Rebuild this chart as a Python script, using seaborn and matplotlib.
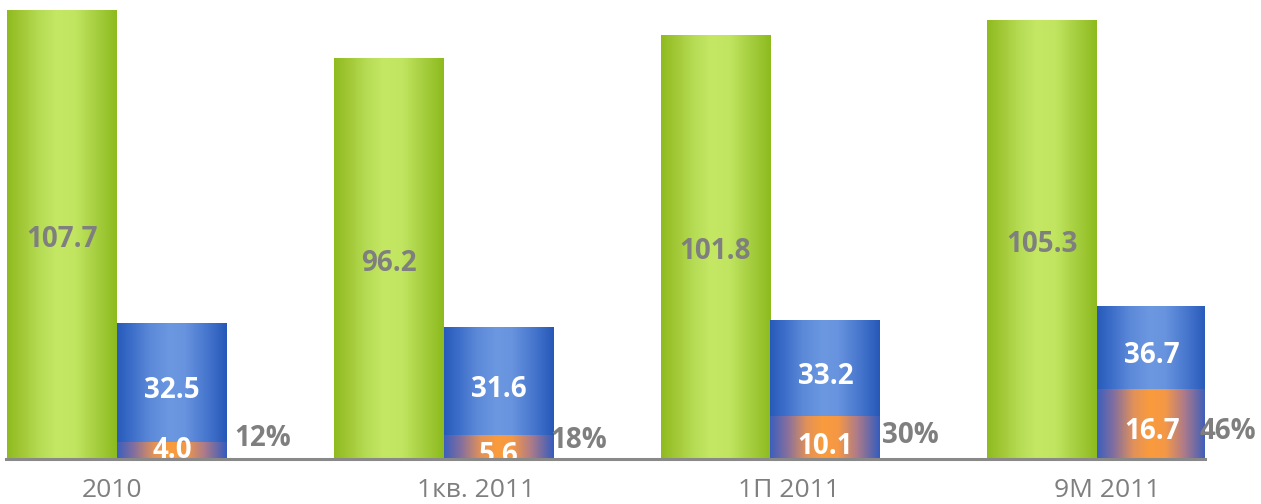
import numpy as np
import pandas as pd
import matplotlib
matplotlib.use("Agg")
import matplotlib.pyplot as plt
import seaborn as sns

# ---- data ----
categories = ["2010", "1кв. 2011", "1П 2011", "9М 2011"]
total_vals = [107.7, 96.2, 101.8, 105.3]
part_vals = [32.5, 31.6, 33.2, 36.7]
sub_vals = [4.0, 5.6, 10.1, 16.7]
share_labels = ["12%", "18%", "30%", "46%"]

# ---- layout (label placement, not data) ----
tick_pos = [-0.015, 1.099, 2.057, 3.030]
share_dx = [0.447, 0.413, 0.428, 0.401]
share_y = [5.0, 4.5, 5.7, 6.7]
sub_label_y = [2.1, 0.9, 3.1, 6.7]

GRAY = "#7F7F7F"

sns.set_theme(style="white")
plt.rcParams["font.family"] = ["Open Sans", "DejaVu Sans"]

fig = plt.figure(figsize=(12.61, 5.04), dpi=100)
ax = fig.add_axes([6 / 1261, 45 / 504, 1199 / 1261, 459 / 504])

pal_main = {"total": "#00ff00", "part": "#0000ff"}
pal_sub = {"total": "#00ff00", "part": "#ff8000"}

n = len(categories)
df_main = pd.DataFrame({
    "cat": categories * 2,
    "val": total_vals + part_vals,
    "series": ["total"] * n + ["part"] * n,
})
# the sub-series sits in the "part" slot; the "total" slot is left empty (0)
df_sub = pd.DataFrame({
    "cat": categories * 2,
    "val": [0.0] * n + sub_vals,
    "series": ["total"] * n + ["part"] * n,
})

sns.barplot(data=df_main, x="cat", y="val", hue="series", order=categories,
            hue_order=["total", "part"], palette=pal_main, width=0.673,
            saturation=1, errorbar=None, legend=False, ax=ax)
n_main = len(ax.patches)
sns.barplot(data=df_sub, x="cat", y="val", hue="series", order=categories,
            hue_order=["total", "part"], palette=pal_sub, width=0.673,
            saturation=1, errorbar=None, legend=False, ax=ax)


def make_grad(stops, npts=256):
    pos = np.array([s[0] for s in stops])
    cols = np.array([s[1] for s in stops], dtype=float) / 255.0
    xs = np.linspace(0, 1, npts)
    arr = np.stack([np.interp(xs, pos, cols[:, c]) for c in range(3)], axis=-1)
    return arr[None, :, :]


grad_green = make_grad([(0, (143, 187, 31)), (0.12, (160, 198, 52)),
                        (0.30, (182, 220, 85)), (0.45, (196, 231, 100)),
                        (0.62, (193, 229, 97)), (0.80, (168, 208, 66)),
                        (1, (141, 186, 30))])
grad_blue = make_grad([(0, (40, 90, 186)), (0.12, (58, 108, 200)),
                       (0.30, (92, 137, 216)), (0.48, (108, 152, 225)),
                       (0.62, (104, 147, 222)), (0.82, (70, 118, 205)),
                       (1, (38, 88, 184))])
grad_orange = make_grad([(0, (60, 95, 188)), (0.15, (130, 110, 160)),
                         (0.33, (225, 145, 90)), (0.48, (250, 155, 60)),
                         (0.62, (245, 152, 70)), (0.80, (170, 122, 140)),
                         (1, (52, 92, 190))])

green_p, blue_p, orange_p = [], [], []
for k, p in enumerate(ax.patches):
    p.set_visible(False)
    if p.get_height() <= 0:
        continue
    fc = p.get_facecolor()
    if k >= n_main:
        orange_p.append(p)
        g, z = grad_orange, 3
    elif fc[1] > 0.5:
        green_p.append(p)
        g, z = grad_green, 2
    else:
        blue_p.append(p)
        g, z = grad_blue, 2
    x0, y0, w, h = p.get_x(), p.get_y(), p.get_width(), p.get_height()
    ax.imshow(g, extent=[x0, x0 + w, y0, y0 + h], aspect="auto",
              interpolation="bilinear", zorder=z)

green_p.sort(key=lambda p: p.get_x())
blue_p.sort(key=lambda p: p.get_x())
orange_p.sort(key=lambda p: p.get_x())

ax.set_xlim(-0.3398, 3.330)
ax.set_ylim(0, 110.3)

for i in range(n):
    gp, bp = green_p[i], blue_p[i]
    gx = gp.get_x() + gp.get_width() / 2
    bx = bp.get_x() + bp.get_width() / 2
    ax.text(gx, total_vals[i] / 2 - 1.1, f"{total_vals[i]:.1f}", ha="center",
            va="center", color=GRAY, fontsize=20, fontweight="bold", zorder=6)
    ax.text(bx, (part_vals[i] + sub_vals[i]) / 2 - 1.8, f"{part_vals[i]:.1f}",
            ha="center", va="center", color="white", fontsize=20,
            fontweight="bold", zorder=6)
    ax.text(bx, sub_label_y[i], f"{sub_vals[i]:.1f}", ha="center",
            va="center", color="white", fontsize=20, fontweight="bold",
            zorder=6, clip_on=True)
    ax.text(i + share_dx[i], share_y[i], share_labels[i], ha="center",
            va="center", color=GRAY, fontsize=20, fontweight="bold",
            zorder=6, clip_on=False)

for s in ["top", "left", "right"]:
    ax.spines[s].set_visible(False)
ax.spines["bottom"].set_color("#898989")
ax.spines["bottom"].set_linewidth(2.2)
ax.spines["bottom"].set_zorder(7)

ax.set_xticks(tick_pos)
ax.set_xticklabels(categories)
ax.tick_params(axis="x", length=0, pad=14, labelsize=19, labelcolor=GRAY)
ax.set_yticks([])
ax.set_xlabel("")
ax.set_ylabel("")
ax.patch.set_alpha(0)

fig.savefig("out.png", dpi=100)
